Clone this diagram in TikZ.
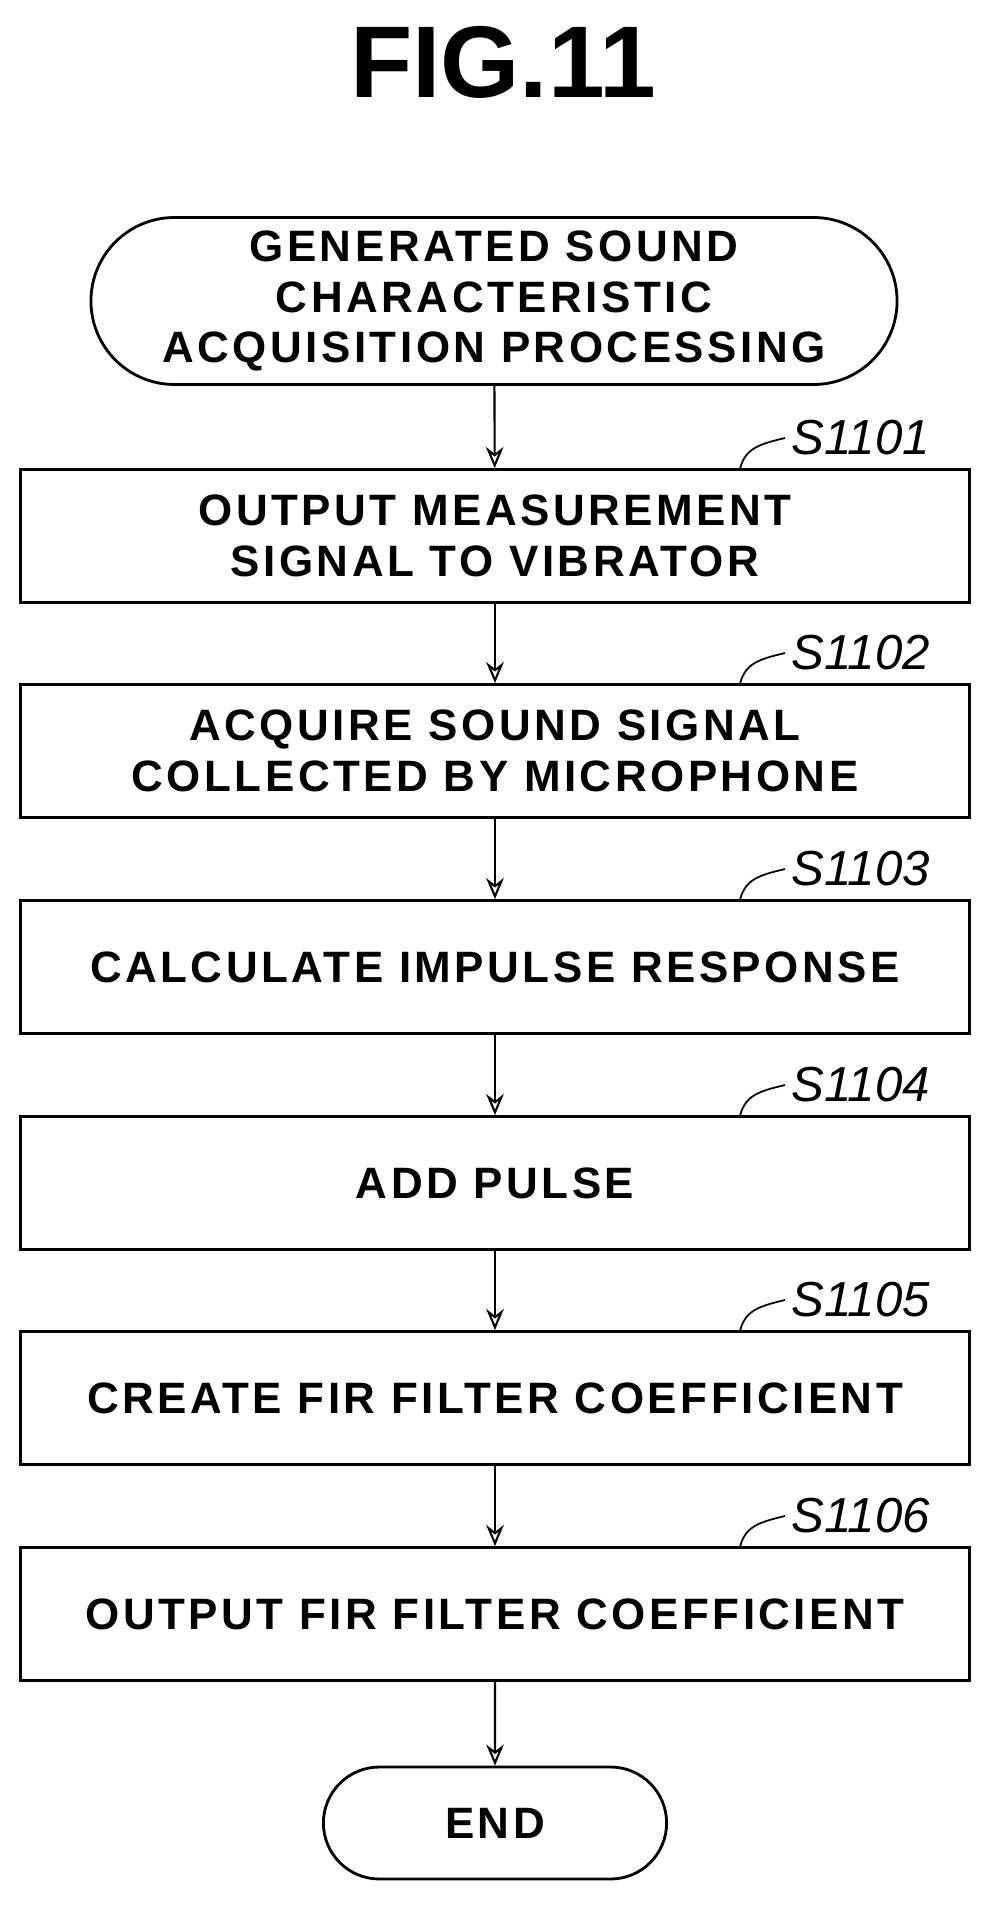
\documentclass[tikz,border=0pt]{standalone}
\usepackage{fontspec}
\setmainfont{Liberation Sans}
\newfontfamily\boxfont[LetterSpace=8]{Liberation Sans}
\usetikzlibrary{shapes.misc,arrows.meta}
\tikzset{
  stepbox/.style={draw,line width=1.6pt,minimum width=18.98cm,minimum height=2.66cm,align=center,font=\boxfont\fontsize{25}{29}\selectfont\bfseries},
  termbox/.style={draw,line width=1.6pt,rounded rectangle,align=center,font=\boxfont\fontsize{25}{29}\selectfont\bfseries},
  steplabel/.style={font=\fontsize{28}{32}\selectfont\itshape,anchor=west},
  flow/.style={->,line width=1.2pt,>={Stealth[length=12pt,width=10pt,open]}}
}
\begin{document}
\begin{tikzpicture}[x=0.02cm,y=-0.02cm]
        \useasboundingbox(0,0)rectangle(994,1905);
        \node[font=\fontsize{58}{60}\selectfont\bfseries](fig)at(503,62){FIG.11};
        \node[termbox,minimum width=16.36cm,minimum height=3.34cm](start)at(494,301){GENERATED SOUND\\CHARACTERISTIC\\ACQUISITION PROCESSING};
        \foreach \n/\y/\txt in {1/536/{OUTPUT MEASUREMENT\\SIGNAL TO VIBRATOR},
                                2/751/{ACQUIRE SOUND SIGNAL\\COLLECTED BY MICROPHONE},
                                3/967/{CALCULATE IMPULSE RESPONSE},
                                4/1183/{ADD PULSE},
                                5/1398/{CREATE FIR FILTER COEFFICIENT},
                                6/1614/{OUTPUT FIR FILTER COEFFICIENT}}
            {
                \node[stepbox](s\n)at(495,\y){\txt};
                \node[steplabel](l\n)at(785,\y-98){S110\n};
                \draw[line width=1pt](740,\y-67)..controls(745,\y-88)and(760,\y-92)..(l\n.west);
            }
        \node[termbox,minimum width=7.1cm,minimum height=2.24cm](end)at(495,1823){END};
        \draw[flow](start)--(s1);
        \foreach \a/\b in {1/2,2/3,3/4,4/5,5/6}
            \draw[flow](s\a)--(s\b);
        \draw[flow](s6)--(end);
\end{tikzpicture}
\end{document}
